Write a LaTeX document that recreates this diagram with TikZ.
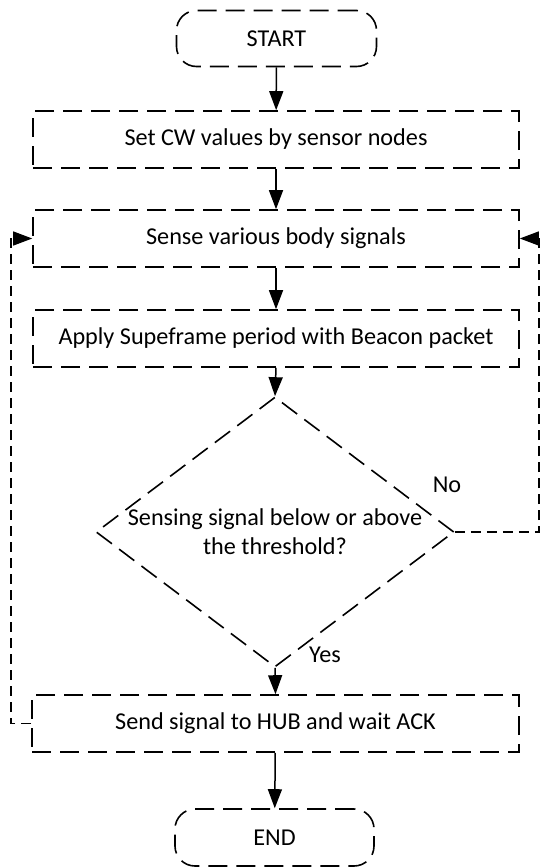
\documentclass[tikz,border=0pt]{standalone}
\usepackage{fontspec}
\setmainfont{Carlito}
\usetikzlibrary{arrows.meta,shapes.geometric}
\begin{document}
\begin{tikzpicture}[x=1pt,y=-1pt,
  every node/.style={font=\fontsize{24.2}{29}\selectfont},
  boxdash/.style={line width=1.6pt,dash pattern=on 19pt off 9pt},
  procbox/.style={draw,boxdash,minimum width=486pt,minimum height=57pt,inner sep=0pt},
  termbox/.style={draw,boxdash,rounded corners=20pt,minimum width=200pt,minimum height=56pt,inner sep=0pt},
  decbox/.style={draw,boxdash,diamond,minimum width=358pt,minimum height=270pt,inner sep=0pt},
  flow/.style={line width=1.5pt,-{Triangle[length=19pt,width=14pt]}},
  loopline/.style={line width=1.2pt,dash pattern=on 10pt off 6pt,-{Triangle[length=19pt,width=14pt]}}
]
\useasboundingbox (0,0) rectangle (541,867);
\node[termbox] (start) at (276.5,38.5) {START};
\node[procbox] (setcw) at (276,139.5) {Set CW values by sensor nodes};
\node[procbox] (sense) at (276,238.5) {Sense various body signals};
\node[procbox] (apply) at (276,338.5) {Apply Supeframe period with Beacon packet};
\node[decbox] (dec) at (275,532) {};
\node[align=center,inner sep=0pt] (dectext) at (275,532) {Sensing signal below or above\\the threshold?};
\node[procbox,minimum width=487pt] (send) at (275.5,723.5) {Send signal to HUB and wait ACK};
\node[termbox,minimum width=199pt,minimum height=57pt] (end) at (274.5,837.5) {END};
\node (no) at (447,485) {No};
\node (yes) at (325,655) {Yes};
\coordinate (rc) at (539,532);
\coordinate (lc) at (11,723.5);
\draw[flow] (start) -- (setcw);
\draw[flow] (setcw) -- (sense);
\draw[flow] (sense) -- (apply);
\draw[flow] (apply.south) -- (dec.north);
\draw[flow] (dec.south) -- (send.north);
\draw[flow] (send) -- (end);
\draw[loopline] (dec.east) -- (rc) |- (sense.east);
\draw[loopline] (send.west) -- (lc) |- (sense.west);
\end{tikzpicture}
\end{document}
